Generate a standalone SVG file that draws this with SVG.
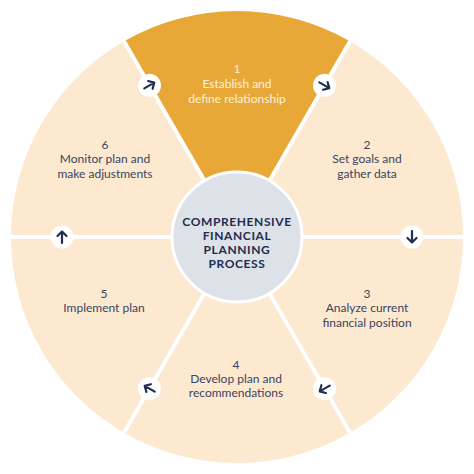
<svg xmlns="http://www.w3.org/2000/svg" width="474" height="474" viewBox="0 0 474 474">
<defs>
<style>
.seg{fill:#FDE9D0;}
.seg1{fill:#E8A838;}
.lbl{font-family:Lato,"Liberation Sans",sans-serif;font-size:12px;fill:#3A4461;text-anchor:middle;}
.lbl1{fill:#FDF1DE;}
.div{stroke:#FFFFFF;stroke-width:4;}
.core{fill:#DDE1E8;stroke:#FFFFFF;stroke-width:3;}
.ctr{font-family:Lato,"Liberation Sans",sans-serif;font-size:12px;font-weight:bold;fill:#1F2D4F;text-anchor:middle;letter-spacing:0.6px;}
.bub{fill:#FFFFFF;}
.arr{fill:none;stroke:#1F2D4F;stroke-width:2.2;stroke-linecap:round;stroke-linejoin:round;}
</style>
<g id="arrow">
<circle class="bub" r="11.5"/>
<path class="arr" d="M0,6 L0,-5.5 M-4.5,-1 L0,-5.5 L4.5,-1"/>
</g>
</defs>
<rect width="474" height="474" fill="#FFFFFF"/>

<g id="step1">
<path class="seg1" d="M237,237 L350,41.28 A226,226 0 0,0 124,41.28 Z"/>
<text class="lbl lbl1" x="237" y="73">1</text>
<text class="lbl lbl1" x="237" y="88">Establish and</text>
<text class="lbl lbl1" x="237" y="103">define relationship</text>
</g>
<g id="step2">
<path class="seg" d="M237,237 L463,237 A226,226 0 0,0 350,41.28 Z"/>
<text class="lbl" x="367" y="148.5">2</text>
<text class="lbl" x="367" y="163">Set goals and</text>
<text class="lbl" x="367" y="177.5">gather data</text>
</g>
<g id="step3">
<path class="seg" d="M237,237 L350,432.72 A226,226 0 0,0 463,237 Z"/>
<text class="lbl" x="367" y="297.5">3</text>
<text class="lbl" x="367" y="312">Analyze current</text>
<text class="lbl" x="367" y="326.5">financial position</text>
</g>
<g id="step4">
<path class="seg" d="M237,237 L124,432.72 A226,226 0 0,0 350,432.72 Z"/>
<text class="lbl" x="236" y="368.5">4</text>
<text class="lbl" x="236" y="382.5">Develop plan and</text>
<text class="lbl" x="236" y="396.5">recommendations</text>
</g>
<g id="step5">
<path class="seg" d="M237,237 L11,237 A226,226 0 0,0 124,432.72 Z"/>
<text class="lbl" x="104" y="297.5">5</text>
<text class="lbl" x="104" y="312">Implement plan</text>
</g>
<g id="step6">
<path class="seg" d="M237,237 L124,41.28 A226,226 0 0,0 11,237 Z"/>
<text class="lbl" x="105" y="148.5">6</text>
<text class="lbl" x="105" y="163">Monitor plan and</text>
<text class="lbl" x="105" y="177.5">make adjustments</text>
</g>

<g id="connectors">
<line class="div" x1="237" y1="237" x2="463" y2="237"/>
<line class="div" x1="237" y1="237" x2="11" y2="237"/>
<line class="div" x1="237" y1="237" x2="350" y2="41.28"/>
<line class="div" x1="237" y1="237" x2="124" y2="41.28"/>
<line class="div" x1="237" y1="237" x2="350" y2="432.72"/>
<line class="div" x1="237" y1="237" x2="124" y2="432.72"/>
<use href="#arrow" transform="translate(149.5,85.4) rotate(60)"/>
<use href="#arrow" transform="translate(324.5,85.4) rotate(120)"/>
<use href="#arrow" transform="translate(412,237) rotate(180)"/>
<use href="#arrow" transform="translate(324.5,388.6) rotate(240)"/>
<use href="#arrow" transform="translate(149.5,388.6) rotate(300)"/>
<use href="#arrow" transform="translate(62,237)"/>
</g>

<g id="center">
<circle class="core" cx="237" cy="237" r="65"/>
<text class="ctr" x="237" y="226">COMPREHENSIVE</text>
<text class="ctr" x="237" y="240">FINANCIAL</text>
<text class="ctr" x="237" y="254">PLANNING</text>
<text class="ctr" x="237" y="268">PROCESS</text>
</g>
</svg>
